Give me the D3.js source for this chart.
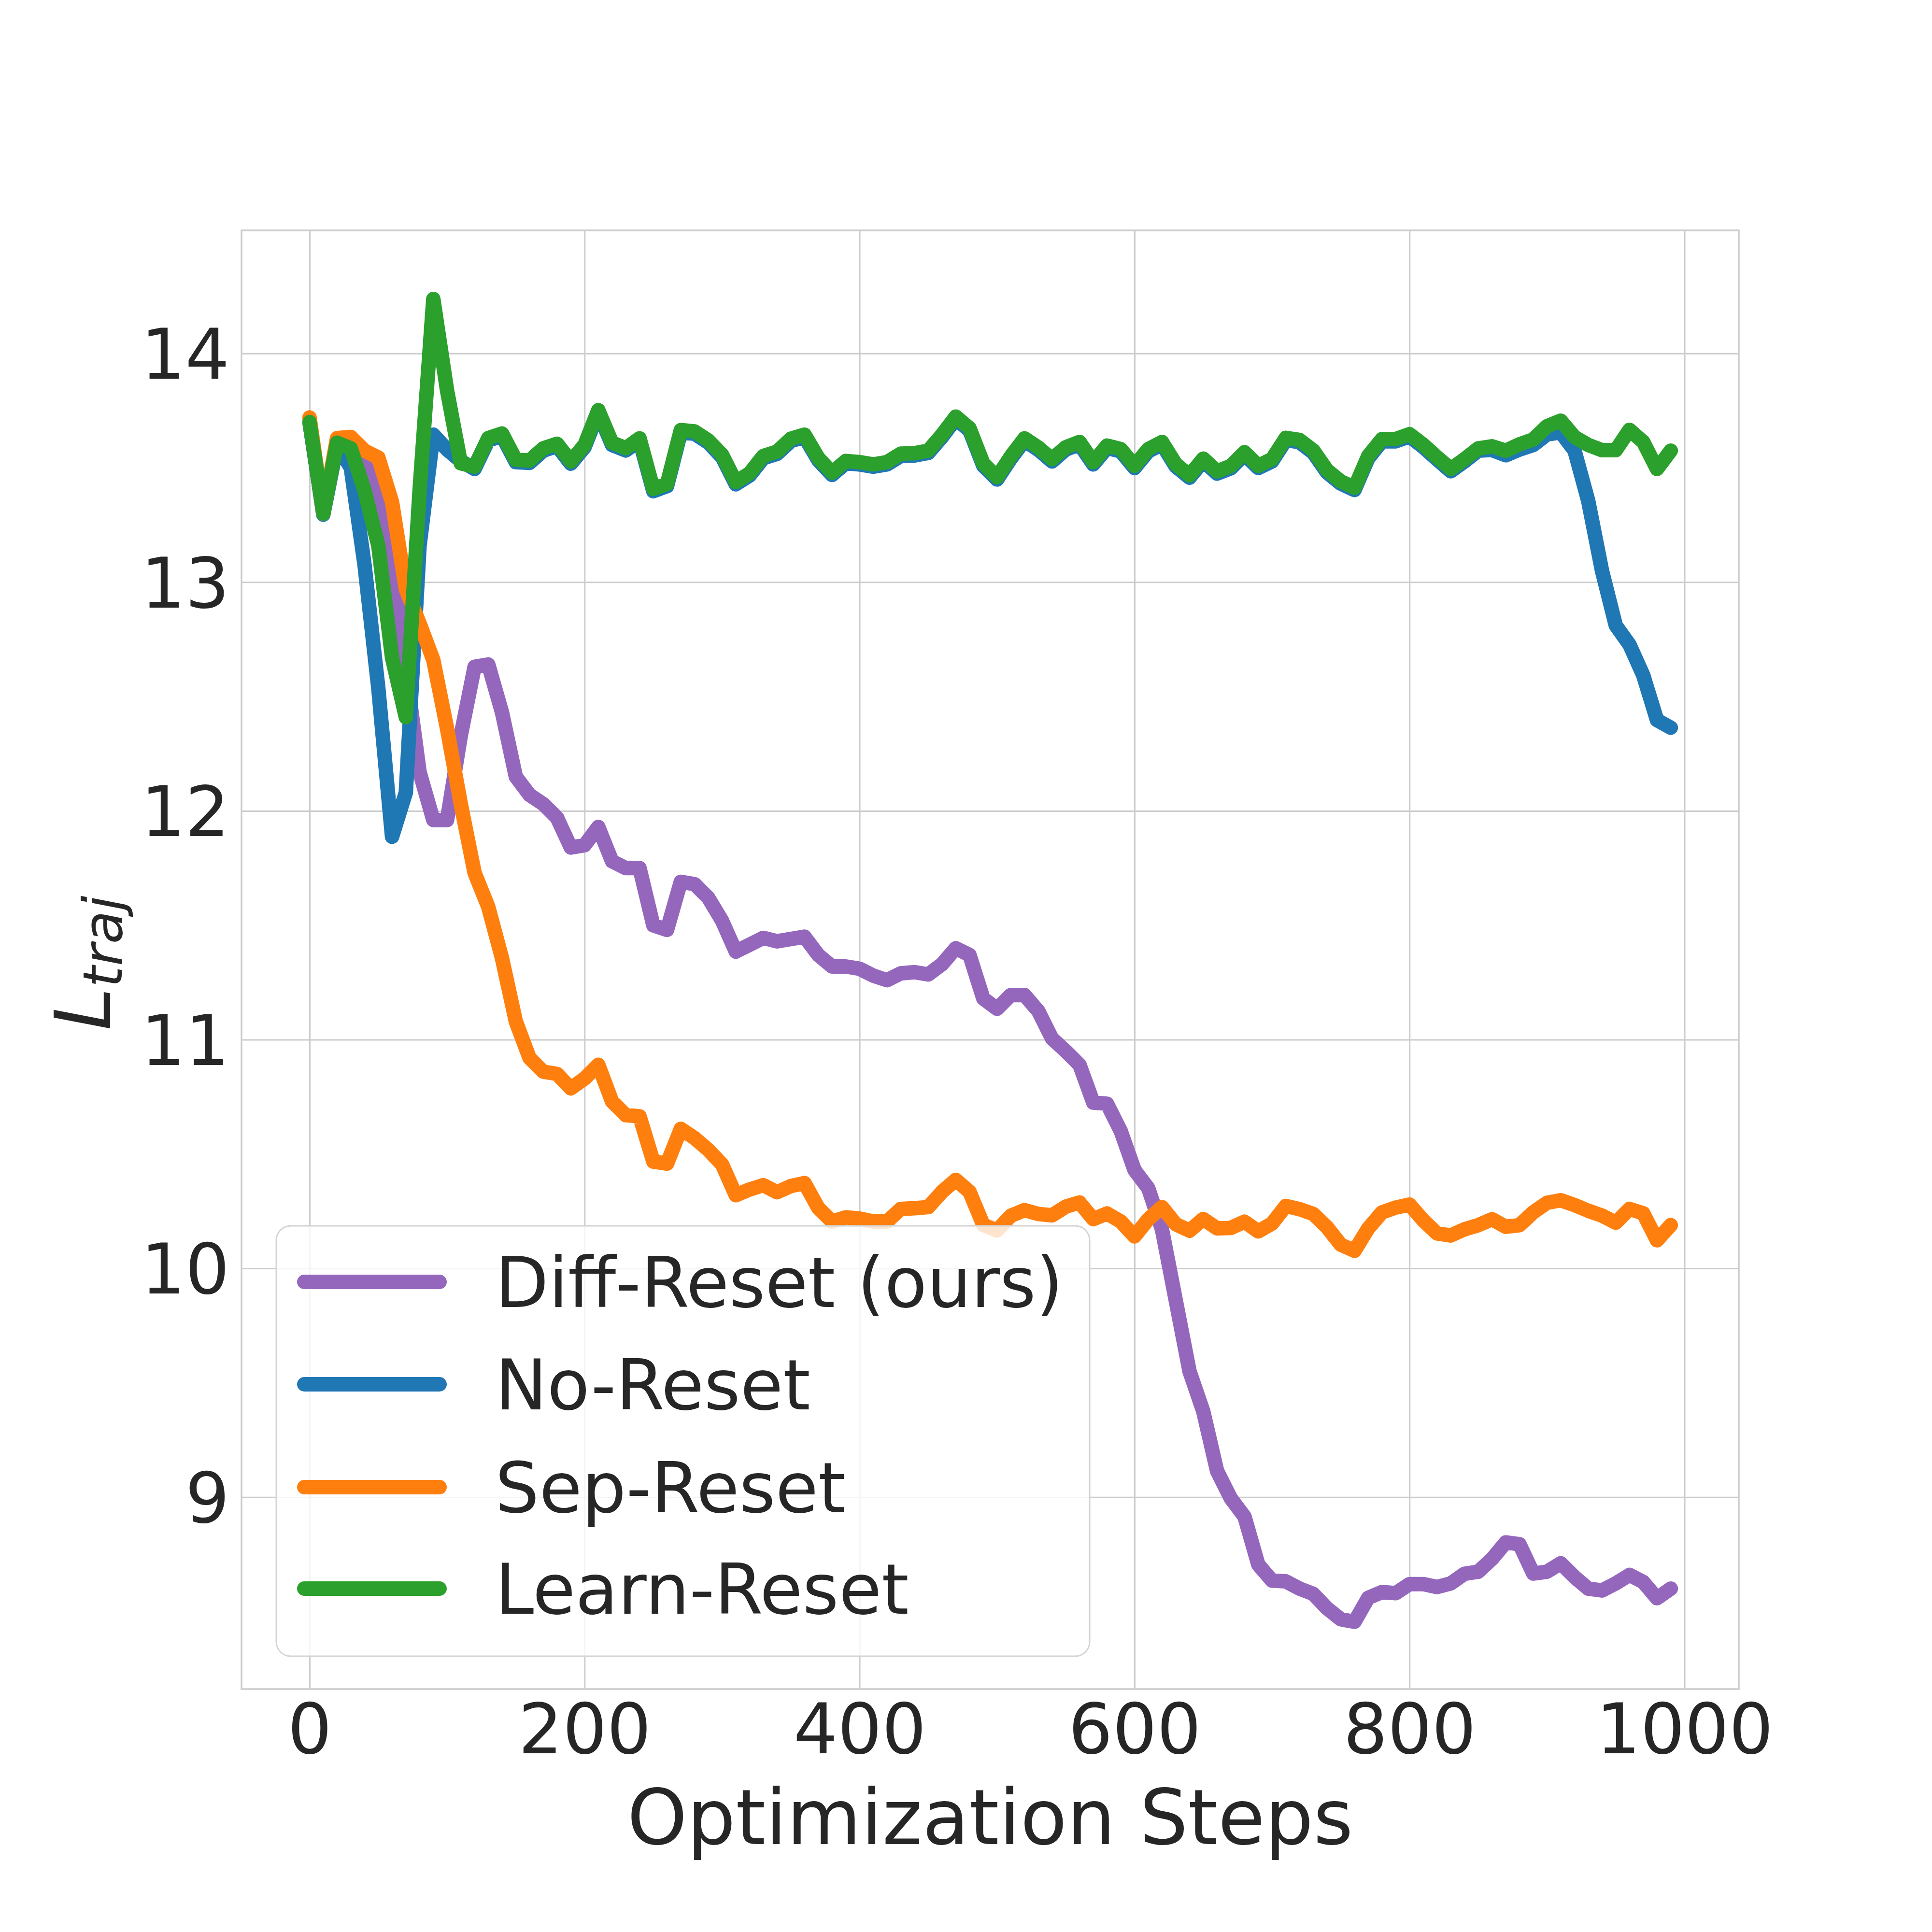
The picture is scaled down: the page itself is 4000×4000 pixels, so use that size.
<!DOCTYPE html>
<html>
<head>
<meta charset="utf-8">
<script src="https://cdn.jsdelivr.net/npm/d3@7"></script>
<style>
  html, body { margin: 0; padding: 0; background: #ffffff; }
  svg text { font-family: "DejaVu Sans", sans-serif; fill: #262626; }
</style>
</head>
<body>
<svg id="chart" width="4000" height="4000"></svg>
<script>
// ---------- DATA ----------
const steps = d3.range(0, 1000, 10); // 0..990

const diffReset = [
  13.70, 13.30, 13.61, 13.58, 13.52, 13.40, 13.10, 12.62, 12.17, 11.96,
  11.96, 12.33, 12.63, 12.64, 12.43, 12.15, 12.07, 12.03, 11.97, 11.84,
  11.85, 11.93, 11.78, 11.75, 11.75, 11.50, 11.48, 11.69, 11.68, 11.62,
  11.52, 11.385, 11.415, 11.445, 11.43, 11.44, 11.45, 11.37, 11.32, 11.32,
  11.31, 11.28, 11.26, 11.29, 11.295, 11.285, 11.33, 11.40, 11.37, 11.18,
  11.135, 11.195, 11.195, 11.125, 11.005, 10.95, 10.89, 10.725, 10.72, 10.60,
  10.43, 10.35, 10.17, 9.86, 9.55, 9.375, 9.115, 8.995, 8.915, 8.705,
  8.635, 8.632, 8.60, 8.577, 8.514, 8.466, 8.455, 8.56, 8.585, 8.58,
  8.62, 8.62, 8.607, 8.623, 8.665, 8.674, 8.73, 8.802, 8.794, 8.666,
  8.674, 8.711, 8.651, 8.60, 8.592, 8.623, 8.66, 8.629, 8.558, 8.60
];

const noReset = [
  13.70, 13.295, 13.60, 13.50, 13.075, 12.537, 11.887, 12.08, 13.16, 13.645,
  13.58, 13.53, 13.495, 13.62, 13.64, 13.525, 13.522, 13.575, 13.595, 13.518,
  13.59, 13.742, 13.60, 13.576, 13.619, 13.398, 13.42, 13.655, 13.649, 13.61,
  13.547, 13.428, 13.466, 13.542, 13.561, 13.617, 13.635, 13.533, 13.469, 13.52,
  13.515, 13.505, 13.515, 13.552, 13.554, 13.565, 13.635, 13.714, 13.663, 13.509,
  13.449, 13.54, 13.619, 13.579, 13.528, 13.58, 13.603, 13.515, 13.587, 13.572,
  13.499, 13.572, 13.603, 13.506, 13.457, 13.53, 13.475, 13.498, 13.558, 13.499,
  13.528, 13.621, 13.612, 13.566, 13.48, 13.431, 13.403, 13.542, 13.616, 13.616,
  13.637, 13.591, 13.537, 13.485, 13.528, 13.575, 13.578, 13.555, 13.58, 13.60,
  13.646, 13.655, 13.576, 13.355, 13.05, 12.811, 12.727, 12.593, 12.397, 12.364
];

const sepReset = [
  13.72, 13.30, 13.63, 13.635, 13.575, 13.545, 13.35, 12.97, 12.82, 12.66,
  12.36, 12.03, 11.73, 11.58, 11.355, 11.08, 10.92, 10.86, 10.85, 10.787,
  10.83, 10.89, 10.73, 10.67, 10.665, 10.467, 10.458, 10.61, 10.57, 10.518,
  10.455, 10.32, 10.345, 10.364, 10.333, 10.36, 10.373, 10.264, 10.205, 10.223,
  10.218, 10.205, 10.205, 10.26, 10.263, 10.268, 10.335, 10.387, 10.335, 10.19,
  10.166, 10.23, 10.255, 10.238, 10.232, 10.27, 10.288, 10.215, 10.24, 10.205,
  10.14, 10.215, 10.268, 10.193, 10.165, 10.216, 10.175, 10.177, 10.204, 10.162,
  10.196, 10.273, 10.259, 10.238, 10.18, 10.104, 10.077, 10.175, 10.245, 10.266,
  10.279, 10.21, 10.153, 10.144, 10.171, 10.189, 10.215, 10.182, 10.189, 10.245,
  10.287, 10.298, 10.277, 10.252, 10.231, 10.20, 10.26, 10.241, 10.123, 10.189
];

const learnReset = [
  13.70, 13.30, 13.61, 13.585, 13.40, 13.16, 12.67, 12.41, 13.40, 14.238,
  13.838, 13.52, 13.505, 13.63, 13.65, 13.535, 13.532, 13.585, 13.605, 13.528,
  13.60, 13.752, 13.61, 13.586, 13.629, 13.408, 13.43, 13.665, 13.659, 13.62,
  13.557, 13.438, 13.476, 13.552, 13.571, 13.627, 13.645, 13.543, 13.479, 13.53,
  13.525, 13.515, 13.525, 13.562, 13.564, 13.575, 13.645, 13.724, 13.673, 13.519,
  13.459, 13.55, 13.629, 13.589, 13.538, 13.59, 13.613, 13.525, 13.597, 13.582,
  13.509, 13.582, 13.613, 13.516, 13.467, 13.54, 13.485, 13.508, 13.568, 13.509,
  13.538, 13.631, 13.622, 13.576, 13.49, 13.441, 13.413, 13.552, 13.626, 13.626,
  13.647, 13.601, 13.547, 13.495, 13.538, 13.585, 13.594, 13.575, 13.603, 13.624,
  13.682, 13.706, 13.635, 13.60, 13.577, 13.577, 13.666, 13.613, 13.495, 13.575
];

const seriesNames = ["Diff-Reset (ours)", "No-Reset", "Sep-Reset", "Learn-Reset"];
const seriesColors = ["#9467bd", "#1f77b4", "#ff7f0e", "#2ca02c"];
const seriesValues = [diffReset, noReset, sepReset, learnReset];

const xTicks = [0, 200, 400, 600, 800, 1000];
const yTicks = [9, 10, 11, 12, 13, 14];
const xLabel = "Optimization Steps";

// ---------- LAYOUT ----------
const plot = { left: 500, right: 3600, top: 477, bottom: 3497 };
const svg = d3.select("#chart");
svg.append("rect").attr("width", 4000).attr("height", 4000).attr("fill", "#ffffff");

const x = d3.scaleLinear().domain([-49.5, 1039.5]).range([plot.left, plot.right]);
const y = d3.scaleLinear().domain([8.161, 14.538]).range([plot.bottom, plot.top]);

const gridColor = "#cccccc";

// x axis + vertical grid
const gx = svg.append("g")
  .attr("transform", `translate(0,${plot.bottom})`)
  .call(d3.axisBottom(x).tickValues(xTicks).tickFormat(d3.format("d"))
        .tickSize(-(plot.bottom - plot.top)).tickPadding(0));
gx.select(".domain").remove();
gx.selectAll(".tick line").attr("stroke", gridColor).attr("stroke-width", 3);
gx.selectAll(".tick text")
  .attr("y", 133).attr("dy", null)
  .attr("font-size", 144).attr("fill", "#262626")
  .attr("font-family", "DejaVu Sans");

// y axis + horizontal grid
const gy = svg.append("g")
  .attr("transform", `translate(${plot.left},0)`)
  .call(d3.axisLeft(y).tickValues(yTicks).tickFormat(d3.format("d"))
        .tickSize(-(plot.right - plot.left)).tickPadding(0));
gy.select(".domain").remove();
gy.selectAll(".tick line").attr("stroke", gridColor).attr("stroke-width", 3);
gy.selectAll(".tick text")
  .attr("x", -25).attr("dy", "0.36em")
  .attr("font-size", 144).attr("fill", "#262626")
  .attr("font-family", "DejaVu Sans");

// frame
svg.append("rect")
  .attr("x", plot.left).attr("y", plot.top)
  .attr("width", plot.right - plot.left).attr("height", plot.bottom - plot.top)
  .attr("fill", "none").attr("stroke", gridColor).attr("stroke-width", 3.5);

// lines
const line = d3.line().x(d => x(d[0])).y(d => y(d[1]));
seriesValues.forEach((vals, i) => {
  const pts = steps.map((s, k) => [s, vals[k]]);
  svg.append("path")
    .datum(pts)
    .attr("d", line)
    .attr("fill", "none")
    .attr("stroke", seriesColors[i])
    .attr("stroke-width", 30)
    .attr("stroke-linejoin", "round")
    .attr("stroke-linecap", "round");
});

// axis labels
svg.append("text")
  .attr("x", (plot.left + plot.right) / 2).attr("y", 3818)
  .attr("text-anchor", "middle").attr("font-size", 158)
  .text(xLabel);

const yl = svg.append("text")
  .attr("transform", "translate(228,1994) rotate(-90)")
  .attr("text-anchor", "middle")
  .attr("font-style", "italic")
  .attr("font-size", 160);
yl.append("tspan").text("L");
yl.append("tspan").attr("font-size", 112).attr("dy", 24).text("traj");

// legend
const lg = svg.append("g");
lg.append("rect")
  .attr("x", 572).attr("y", 2538).attr("width", 1684).attr("height", 891)
  .attr("rx", 30).attr("ry", 30)
  .attr("fill", "#ffffff").attr("fill-opacity", 0.8)
  .attr("stroke", "#d4d4d4").attr("stroke-width", 3);
const rowY = [2654, 2866, 3079, 3289];
seriesNames.forEach((name, i) => {
  lg.append("line")
    .attr("x1", 630).attr("x2", 910)
    .attr("y1", rowY[i]).attr("y2", rowY[i])
    .attr("stroke", seriesColors[i]).attr("stroke-width", 30)
    .attr("stroke-linecap", "round");
  lg.append("text")
    .attr("x", 1025).attr("y", rowY[i] + 52)
    .attr("font-size", 144)
    .text(name);
});
</script>
</body>
</html>
